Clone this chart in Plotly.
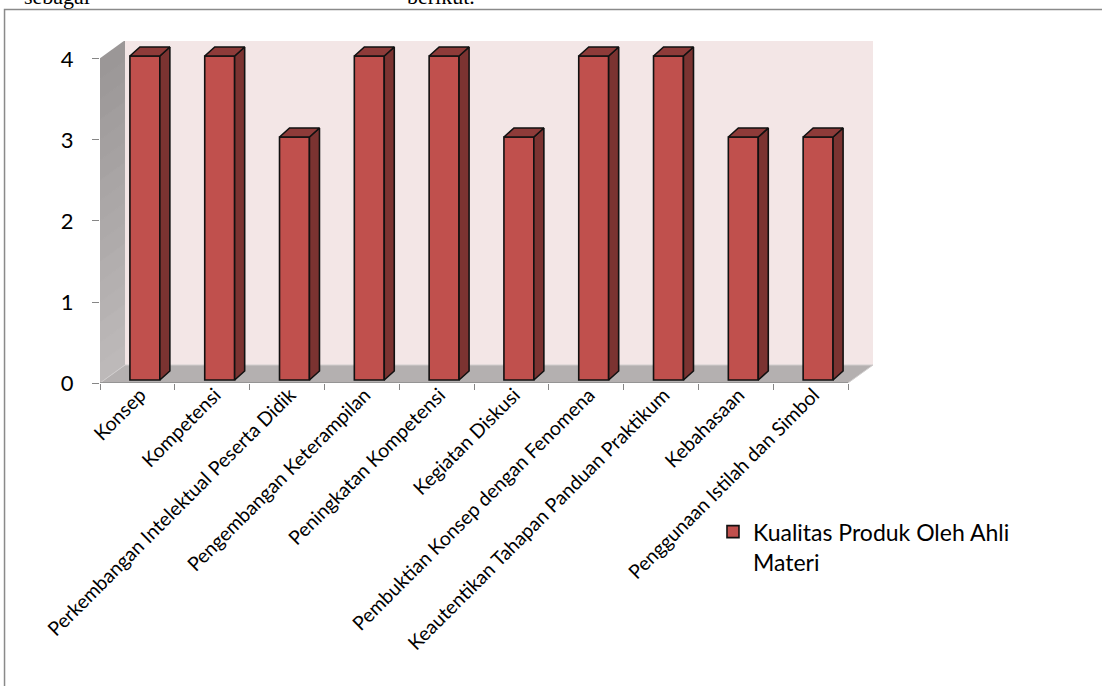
import plotly.graph_objects as go

categories = ["Konsep", "Kompetensi", "Perkembangan Intelektual Peserta Didik",
              "Pengembangan Keterampilan", "Peningkatan Kompetensi", "Kegiatan Diskusi",
              "Pembuktian Konsep dengan Fenomena", "Keautentikan Tahapan Panduan Praktikum",
              "Kebahasaan", "Penggunaan Istilah dan Simbol"]
values = [4, 4, 3, 4, 4, 3, 4, 4, 3, 3]
series_name = "Kualitas Produk Oleh Ahli<br>Materi"
y_ticks = [0, 1, 2, 3, 4]

# 3D styling constants (data units)
DX, DY = 0.334, 0.222        # wall depth
BX0, BY0 = 0.10, 0.037       # bar front-face offset
BDX, BDY = 0.134, 0.111      # bar depth
BW = 0.40                    # bar width
YMAX = max(y_ticks)
N = len(categories)
XL, XR = -0.5, N - 0.5

FRONT = "#c0504d"
SIDE = "#7b3331"
TOP = "#8e3b39"
FONT = "Lato"

fig = go.Figure()

xs = [i + BX0 for i in range(N)]
fig.add_trace(go.Bar(
    x=xs, y=values, base=BY0, width=BW,
    marker=dict(color=FRONT, line=dict(color="#111111", width=1.6)),
    name=series_name, showlegend=True,
))

side_x, side_y, top_x, top_y = [], [], [], []
for x, v in zip(xs, values):
    r, l = x + BW / 2, x - BW / 2
    b, t = BY0, BY0 + v
    side_x += [r, r + BDX, r + BDX, r, r, None]
    side_y += [b, b + BDY, t + BDY, t, b, None]
    top_x += [l, l + BDX, r + BDX, r, l, None]
    top_y += [t, t + BDY, t + BDY, t, t, None]

fig.add_trace(go.Scatter(x=side_x, y=side_y, mode="lines", fill="toself",
                         fillcolor=SIDE, line=dict(color="#111111", width=1.6),
                         showlegend=False, hoverinfo="skip"))
fig.add_trace(go.Scatter(x=top_x, y=top_y, mode="lines", fill="toself",
                         fillcolor=TOP, line=dict(color="#111111", width=1.6),
                         showlegend=False, hoverinfo="skip"))

shapes = []
# back wall
shapes.append(dict(type="path", xref="x", yref="y", layer="below",
                   path=f"M{XL+DX},{DY} L{XR+DX},{DY} L{XR+DX},{YMAX+DY} L{XL+DX},{YMAX+DY} Z",
                   fillcolor="#f3e6e6", line=dict(width=0)))
# side wall gradient strips
nst = 16
c0 = (0x9a, 0x96, 0x96)
c1 = (0xbf, 0xbb, 0xbb)
for k in range(nst):
    a = YMAX * k / nst
    bb = YMAX * (k + 1) / nst + 0.01
    f = 1 - (k + 0.5) / nst
    col = "rgb(%d,%d,%d)" % tuple(int(c0[j] + (c1[j] - c0[j]) * f) for j in range(3))
    shapes.append(dict(type="path", xref="x", yref="y", layer="below",
                       path=f"M{XL},{a} L{XL},{bb} L{XL+DX},{bb+DY} L{XL+DX},{a+DY} Z",
                       fillcolor=col, line=dict(width=0)))
# floor
shapes.append(dict(type="path", xref="x", yref="y", layer="below",
                   path=f"M{XL},0 L{XR},0 L{XR+DX},{DY} L{XL+DX},{DY} Z",
                   fillcolor="#b4b0b0", line=dict(color="#d0cdcd", width=1)))
# front axis line
shapes.append(dict(type="line", xref="x", yref="y", layer="above",
                   x0=XL, y0=0, x1=XR, y1=0, line=dict(color="#868686", width=1.3)))
# page border
shapes.append(dict(type="rect", xref="paper", yref="paper",
                   x0=-0.1235, y0=-2, x1=1.6, y1=1.0921,
                   line=dict(color="#8a8a8a", width=1.5), fillcolor="rgba(0,0,0,0)"))

annotations = [
    dict(text="sebagai", xref="paper", yref="paper", x=-0.101, y=1.088,
         xanchor="left", yanchor="bottom", showarrow=False,
         font=dict(family="Liberation Serif", size=22, color="black")),
    dict(text="berikut.", xref="paper", yref="paper", x=0.3946, y=1.088,
         xanchor="left", yanchor="bottom", showarrow=False,
         font=dict(family="Liberation Serif", size=22, color="black")),
]

fig.update_layout(
    width=1102, height=686,
    margin=dict(l=100, r=229, t=41, b=303),
    paper_bgcolor="white", plot_bgcolor="white",
    shapes=shapes, annotations=annotations,
    barmode="overlay",
    font=dict(family=FONT, color="black"),
    legend=dict(x=0.793, y=-0.372, xanchor="left", yanchor="top", valign="top",
                font=dict(family=FONT, size=23, color="black"),
                bgcolor="rgba(0,0,0,0)"),
    xaxis=dict(range=[XL, XR + DX], tickvals=[i - 0.5 for i in range(N + 1)],
               ticktext=[""] * (N + 1), ticks="outside", ticklen=6, tickcolor="#868686",
               showgrid=False, zeroline=False, showline=False, fixedrange=True),
    xaxis2=dict(range=[XL, XR + DX], overlaying="x", anchor="free", position=0.012,
                side="bottom",
                tickvals=[i + 0.04 for i in range(N)], ticktext=categories,
                tickangle=-45, ticks="", showgrid=False, zeroline=False, showline=False,
                tickfont=dict(family=FONT, size=19.5, color="black")),
    yaxis=dict(range=[0, YMAX + DY], tickvals=y_ticks, ticks="outside", ticklen=7,
               tickcolor="#868686", showgrid=False, zeroline=False, showline=False,
               ticklabelstandoff=14, tickfont=dict(family=FONT, size=22, color="black")),
)
# dummy invisible trace to activate xaxis2
fig.add_trace(go.Scatter(x=[0], y=[0], xaxis="x2", mode="markers",
                         marker=dict(opacity=0), showlegend=False, hoverinfo="skip"))

fig.write_html("out.html")
